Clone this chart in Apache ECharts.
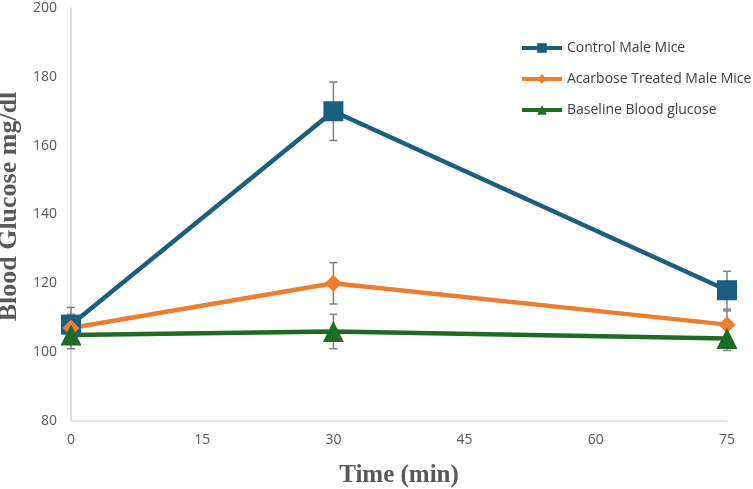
<!DOCTYPE html>
<html>
<head>
<meta charset="utf-8">
<script src="https://cdn.jsdelivr.net/npm/echarts@6/dist/echarts.min.js"></script>
<style>
  html, body { margin: 0; padding: 0; background: #fff; }
  #chart { width: 753px; height: 489px; }
</style>
</head>
<body>
<div id="chart"></div>
<script>
// time points (min)
const times = [0, 30, 75];

// mean blood glucose, mg/dl
const control = [108, 170, 118];
const acarbose = [107, 120, 108];
const baseline = [105, 106, 104];

// error bar half-widths
const controlErr = [5, 8.5, 5.5];
const acarboseErr = [4, 6, 4];
const baselineErr = [4, 5, 3.5];

const xTicks = [0, 15, 30, 45, 60, 75];

const colors = {
  control: '#1b5f80',
  acarbose: '#ed7d31',
  baseline: '#1e6b24'
};

const chart = echarts.init(document.getElementById('chart'));

const pairs = vals => times.map((t, i) => [t, vals[i]]);
const errs = (vals, e) => times.map((t, i) => [t, vals[i] - e[i], vals[i] + e[i]]);

const errorSeries = (name, data) => ({
  name: name,
  type: 'custom',
  z: 1,
  silent: true,
  renderItem: (params, api) => {
    const x = api.value(0);
    const top = api.coord([x, api.value(2)]);
    const bot = api.coord([x, api.value(1)]);
    const w = 4;
    const style = { stroke: '#7f7f7f', lineWidth: 1.5 };
    return {
      type: 'group',
      children: [
        { type: 'line', shape: { x1: top[0], y1: top[1], x2: bot[0], y2: bot[1] }, style },
        { type: 'line', shape: { x1: top[0] - w, y1: top[1], x2: top[0] + w, y2: top[1] }, style },
        { type: 'line', shape: { x1: bot[0] - w, y1: bot[1], x2: bot[0] + w, y2: bot[1] }, style }
      ]
    };
  },
  encode: { x: 0, y: [1, 2] },
  data: data
});

const lineSeries = (name, data, color, symbol, size) => ({
  name: name,
  type: 'line',
  z: 3,
  data: data,
  symbol: symbol,
  symbolSize: size,
  lineStyle: { width: 4.5, color: color },
  itemStyle: { color: color },
  emphasis: { disabled: true }
});

chart.setOption({
  animation: false,
  textStyle: { fontFamily: 'Open Sans' },
  grid: { left: 71, right: 26, top: 8, bottom: 68, containLabel: false, outerBoundsMode: 'none' },
  legend: {
    data: ['Control Male Mice', 'Acarbose Treated Male Mice', 'Baseline Blood glucose'],
    orient: 'vertical',
    left: 515,
    top: 36,
    itemWidth: 40,
    itemHeight: 12,
    itemGap: 17,
    lineStyle: { width: 4 },
    textStyle: { color: '#404040', fontSize: 14, fontFamily: 'Open Sans' }
  },
  xAxis: {
    type: 'value',
    min: 0,
    max: 75,
    interval: 15,
    name: 'Time (min)',
    nameLocation: 'middle',
    nameGap: 42,
    nameTextStyle: { fontFamily: 'Liberation Serif', fontWeight: 'bold', fontSize: 25, color: '#595959' },
    axisLine: { lineStyle: { color: '#d9d9d9', width: 1.5 } },
    axisTick: { show: false },
    splitLine: { show: false },
    axisLabel: {
      color: '#595959', fontSize: 14, margin: 12,
      formatter: v => xTicks.includes(v) ? String(v) : ''
    }
  },
  yAxis: {
    type: 'value',
    min: 80,
    max: 200,
    interval: 20,
    name: 'Blood Glucose mg/dl',
    nameLocation: 'middle',
    nameGap: 43,
    nameTextStyle: {
      fontFamily: 'Liberation Serif', fontWeight: 'bold', fontSize: 26, color: '#595959',
      padding: [0, 0, 0, 16]
    },
    axisLine: { show: true, lineStyle: { color: '#d9d9d9', width: 1.5 } },
    axisTick: { show: false },
    splitLine: { show: false },
    axisLabel: { color: '#595959', fontSize: 14, margin: 14 }
  },
  series: [
    errorSeries('controlErr', errs(control, controlErr)),
    errorSeries('acarboseErr', errs(acarbose, acarboseErr)),
    errorSeries('baselineErr', errs(baseline, baselineErr)),
    lineSeries('Control Male Mice', pairs(control), colors.control, 'rect', 20),
    lineSeries('Acarbose Treated Male Mice', pairs(acarbose), colors.acarbose, 'diamond', 17),
    lineSeries('Baseline Blood glucose', pairs(baseline), colors.baseline, 'triangle', 21)
  ]
});
</script>
</body>
</html>
